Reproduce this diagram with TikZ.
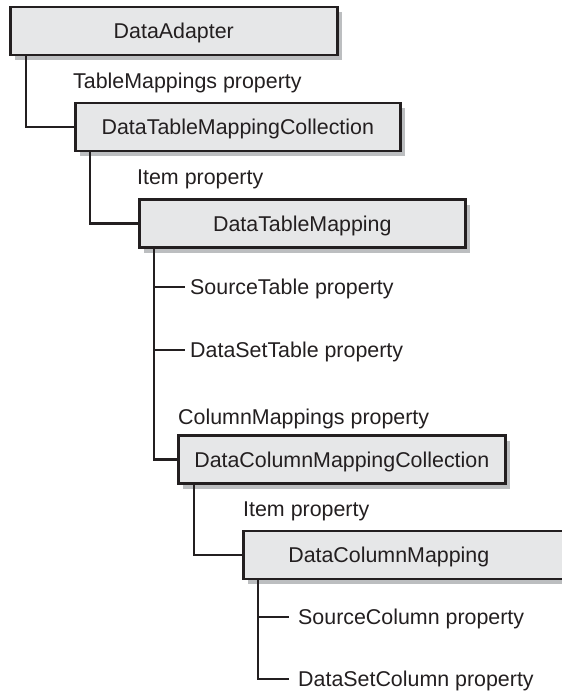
\documentclass[tikz,border=0pt]{standalone}
\usepackage{fontspec}
\setmainfont{Liberation Sans}
\usetikzlibrary{shadows}
\definecolor{boxfill}{HTML}{E6E7E8}
\definecolor{shadowgray}{HTML}{BCBEC0}
\definecolor{ink}{HTML}{231F20}
\tikzset{
  classbox/.style={draw=ink, line width=2.6pt, fill=boxfill, anchor=west,
    minimum width=327pt, minimum height=48pt, inner sep=0pt,
    text height=15pt, text depth=0pt, text=ink,
    drop shadow={shadow xshift=5pt, shadow yshift=-5pt, fill=shadowgray, opacity=1}},
  proplabel/.style={anchor=west, inner sep=0pt, text height=15pt, text depth=0pt, text=ink},
  link/.style={draw=ink, line width=2.3pt}
}
\begin{document}
\begin{tikzpicture}[x=1pt,y=-1pt,font=\fontsize{21.4}{25}\selectfont]
\clip (0,0) rectangle (562,694);
\fill[white] (0,0) rectangle (562,694);
% boxes
\node[classbox] (b1) at (9,31) {DataAdapter};
\node[classbox, minimum width=325pt] (b2) at (74,127) {DataTableMappingCollection};
\node[classbox, minimum width=326pt] (b3) at (138,223.5) {DataTableMapping};
\node[classbox] (b4) at (177,459.5) {DataColumnMappingCollection};
\node[classbox, text width=327pt, align=left] (b5) at (242,555) {\hspace*{45pt}DataColumnMapping};
% labels
\node[proplabel] (l1) at (73,81) {TableMappings property};
\node[proplabel] (l2) at (137,177) {Item property};
\node[proplabel] (l3) at (190,287) {SourceTable property};
\node[proplabel] (l4) at (190,350) {DataSetTable property};
\node[proplabel] (l5) at (178,417) {ColumnMappings property};
\node[proplabel] (l6) at (243,509) {Item property};
\node[proplabel] (l7) at (298,617) {SourceColumn property};
\node[proplabel] (l8) at (298,679) {DataSetColumn property};
% connector origins
\coordinate (t1) at ([xshift=17pt]b1.south west);
\coordinate (t2) at ([xshift=16pt]b2.south west);
\coordinate (t3) at ([xshift=16pt]b3.south west);
\coordinate (t4) at ([xshift=17pt]b4.south west);
\coordinate (t5) at ([xshift=16pt]b5.south west);
% connectors
\path[link] (t1) |- (b2.west);
\path[link] (t2) |- (b3.west);
\path[link] (t3) |- (b4.west);
\path[link] (t3 |- l3.west) -- ([xshift=-5pt]l3.west);
\path[link] (t3 |- l4.west) -- ([xshift=-5pt]l4.west);
\path[link] (t4) |- (b5.west);
\path[link] (t5 |- l7.west) -- ([xshift=-9pt]l7.west);
\path[link] (t5) |- ([xshift=-9pt]l8.west);
\end{tikzpicture}
\end{document}
